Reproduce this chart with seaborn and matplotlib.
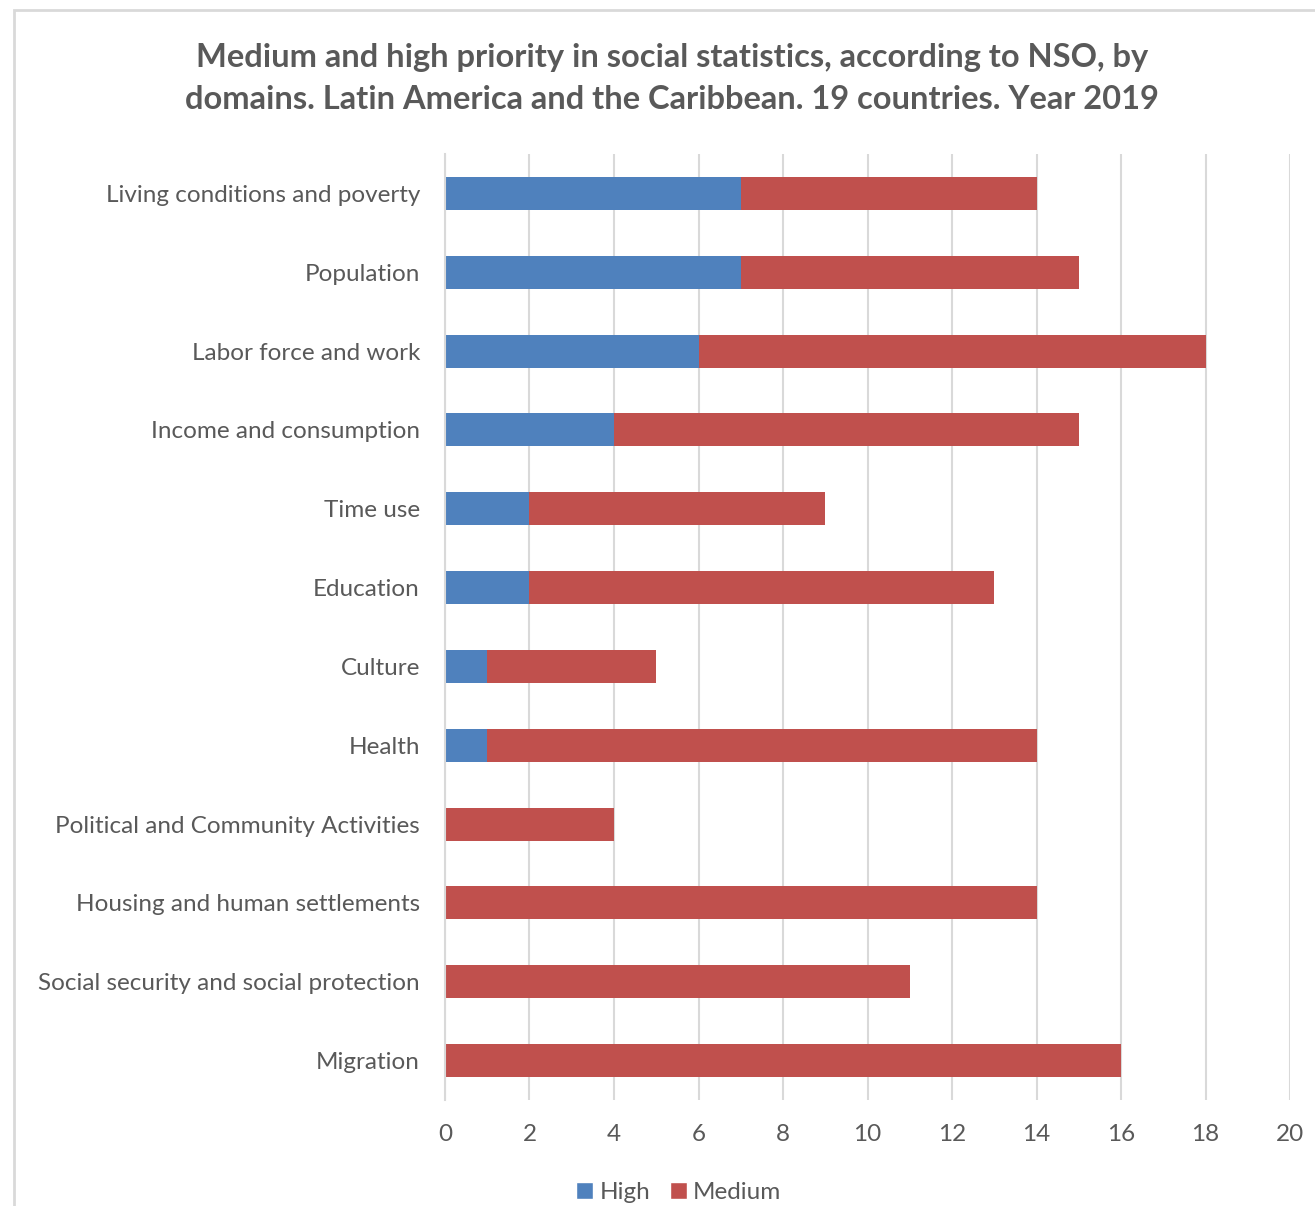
import matplotlib
matplotlib.use("Agg")
import matplotlib.pyplot as plt
import seaborn as sns
import pandas as pd
from matplotlib.patches import Patch, Rectangle

categories = ["Living conditions and poverty", "Population", "Labor force and work",
              "Income and consumption", "Time use", "Education", "Culture", "Health",
              "Political and Community Activities", "Housing and human settlements",
              "Social security and social protection", "Migration"]
high = [7, 7, 6, 4, 2, 2, 1, 1, 0, 0, 0, 0]
medium = [7, 8, 12, 11, 7, 11, 4, 13, 4, 14, 11, 16]
xticks = [0, 2, 4, 6, 8, 10, 12, 14, 16, 18, 20]

BLUE = "#4F81BD"
RED = "#C0504D"
TXT = "#595959"
GRID = "#D9D9D9"

sns.set_theme(style="white")
plt.rcParams["font.family"] = ["Lato", "DejaVu Sans"]

df = pd.DataFrame({"cat": categories, "high": high,
                   "total": [h + m for h, m in zip(high, medium)]})

fig = plt.figure(figsize=(13.15, 12.06), dpi=100)
ax = fig.add_axes([0.3384, 0.0879, 0.981 - 0.3384, 0.8723 - 0.0879])

sns.barplot(data=df, y="cat", x="total", color=RED, saturation=1, width=0.42,
            orient="h", ax=ax, zorder=3, linewidth=0)
sns.barplot(data=df, y="cat", x="high", color=BLUE, saturation=1, width=0.42,
            orient="h", ax=ax, zorder=4, linewidth=0)

ax.set_xlim(0, 20)
ax.set_ylim(len(categories) - 0.5, -0.5)
ax.set_xticks(xticks)
ax.set_xticklabels([str(t) for t in xticks])
ax.set_xlabel("")
ax.set_ylabel("")
ax.grid(axis="x", color=GRID, linewidth=1.5, zorder=0)
ax.grid(axis="y", visible=False)
for s in ["top", "right", "bottom"]:
    ax.spines[s].set_visible(False)
ax.spines["left"].set_color(GRID)
ax.spines["left"].set_linewidth(1.5)
ax.spines["left"].set_zorder(5)
ax.tick_params(axis="both", length=0, labelsize=17.5, labelcolor=TXT)
ax.tick_params(axis="y", pad=18)
ax.tick_params(axis="x", pad=17)

fig.suptitle("Medium and high priority in social statistics, according to NSO, by\n"
             "domains. Latin America and the Caribbean. 19 countries. Year 2019",
             x=0.511, y=0.9645, fontsize=23.5, fontweight="bold", color=TXT,
             linespacing=1.55)

handles = [Patch(facecolor=BLUE, label="High"), Patch(facecolor=RED, label="Medium")]
fig.legend(handles=handles, loc="center", bbox_to_anchor=(0.516, 0.011), ncol=2,
           frameon=False, fontsize=17.5, labelcolor=TXT, handlelength=0.7,
           handleheight=0.7, handletextpad=0.25, columnspacing=0.8)

fig.patches.append(Rectangle((14 / 1315, -0.01), 1.1, 1 - 10 / 1206 + 0.01,
                             transform=fig.transFigure, fill=False,
                             edgecolor=GRID, linewidth=2))

fig.savefig("out.png", dpi=100)
